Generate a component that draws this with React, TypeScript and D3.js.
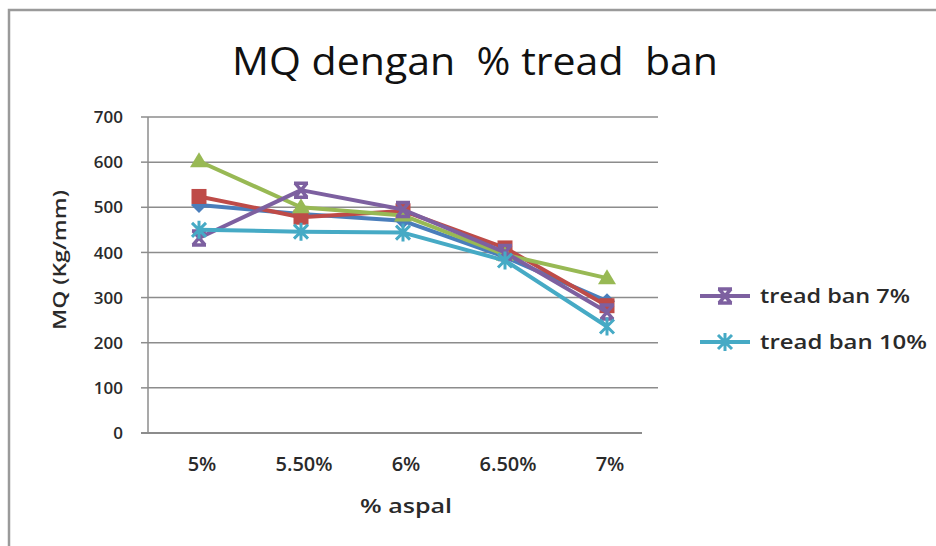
import React, { useEffect, useRef } from 'react';
import * as d3 from 'd3';

const categories = ['5%', '5.50%', '6%', '6.50%', '7%'];
const yTicks = [0, 100, 200, 300, 400, 500, 600, 700];

// series values (MQ, Kg/mm)
const blueValues = [505, 485, 470, 390, 292];
const redValues = [524, 478, 492, 410, 282];
const greenValues = [602, 500, 482, 395, 343];
const purpleValues = [432, 538, 495, 400, 268];
const cyanValues = [450, 446, 444, 382, 236];

const seriesNames = ['tread ban 0%', 'tread ban 3%', 'tread ban 5%', 'tread ban 7%', 'tread ban 10%'];
const legendNames = ['tread ban 7%', 'tread ban 10%'];

interface Series {
  name: string;
  values: number[];
  color: string;
  marker: string;
}

const FONT = "'Open Sans', 'Noto Sans', sans-serif";

export default function App() {
  const svgRef = useRef<SVGSVGElement>(null);

  useEffect(() => {
    if (!svgRef.current) return;
    const svg = d3.select(svgRef.current);
    svg.selectAll('*').remove();

    const series: Series[] = [
      { name: seriesNames[0], values: blueValues, color: '#4a7ebb', marker: 'diamond' },
      { name: seriesNames[1], values: redValues, color: '#be4b48', marker: 'square' },
      { name: seriesNames[2], values: greenValues, color: '#98b954', marker: 'triangle' },
      { name: seriesNames[3], values: purpleValues, color: '#7d60a0', marker: 'xbar' },
      { name: seriesNames[4], values: cyanValues, color: '#46aac5', marker: 'star' },
    ];

    // chart frame (cut off at right and bottom)
    svg.append('path')
      .attr('d', 'M9,546 L9,10 L936,10')
      .attr('fill', 'none')
      .attr('stroke', '#9a9a9a')
      .attr('stroke-width', 2.5);

    const x = d3.scaleBand().domain(categories).range([148, 658]);
    const y = d3.scaleLinear().domain([0, 700]).range([433, 117]);

    // gridlines
    svg.append('g')
      .selectAll('line')
      .data(yTicks.filter(d => d > 0))
      .enter()
      .append('line')
      .attr('x1', 148)
      .attr('x2', 658)
      .attr('y1', d => y(d))
      .attr('y2', d => y(d))
      .attr('stroke', '#8c8c8c')
      .attr('stroke-width', 1.5);

    // y axis
    svg.append('line')
      .attr('x1', 148).attr('x2', 148)
      .attr('y1', y(700)).attr('y2', y(0))
      .attr('stroke', '#8c8c8c').attr('stroke-width', 1.5);
    svg.append('g')
      .selectAll('line')
      .data(yTicks)
      .enter()
      .append('line')
      .attr('x1', 141).attr('x2', 148)
      .attr('y1', d => y(d)).attr('y2', d => y(d))
      .attr('stroke', '#8c8c8c').attr('stroke-width', 1.5);
    svg.append('g')
      .selectAll('text')
      .data(yTicks)
      .enter()
      .append('text')
      .attr('x', 123)
      .attr('y', d => y(d))
      .attr('dy', '0.36em')
      .attr('text-anchor', 'end')
      .style('font-family', FONT)
      .style('font-size', '17px')
      .style('font-weight', '600')
      .style('fill', '#2a2a2a')
      .text(d => d);

    // x axis
    svg.append('line')
      .attr('x1', 141).attr('x2', 642)
      .attr('y1', y(0)).attr('y2', y(0))
      .attr('stroke', '#8c8c8c').attr('stroke-width', 2);
    svg.append('g')
      .selectAll('text')
      .data(categories)
      .enter()
      .append('text')
      .attr('x', d => x(d)! + x.bandwidth() / 2 + 3)
      .attr('y', 471)
      .attr('text-anchor', 'middle')
      .style('font-family', FONT)
      .style('font-size', '20px')
      .style('font-weight', '600')
      .style('fill', '#2a2a2a')
      .text(d => d);

    // axis titles
    svg.append('text')
      .attr('x', 406).attr('y', 513)
      .attr('text-anchor', 'middle')
      .attr('textLength', 92)
      .attr('lengthAdjust', 'spacingAndGlyphs')
      .style('font-family', FONT)
      .style('font-size', '20px')
      .style('font-weight', '600')
      .style('fill', '#2a2a2a')
      .text('% aspal');
    svg.append('text')
      .attr('transform', 'translate(66,260) rotate(-90)')
      .attr('text-anchor', 'middle')
      .attr('textLength', 140)
      .attr('lengthAdjust', 'spacingAndGlyphs')
      .style('font-family', FONT)
      .style('font-size', '18px')
      .style('font-weight', '600')
      .style('fill', '#2a2a2a')
      .text('MQ (Kg/mm)');

    // title
    svg.append('text')
      .attr('x', 475).attr('y', 75)
      .attr('text-anchor', 'middle')
      .attr('textLength', 486)
      .attr('lengthAdjust', 'spacingAndGlyphs')
      .style('font-family', FONT)
      .style('font-size', '38px')
      .style('white-space', 'pre')
      .style('fill', '#111')
      .text('MQ dengan  % tread  ban');

    const cx = (i: number) => x(categories[i])! + x.bandwidth() / 2;

    const drawMarker = (g: d3.Selection<SVGGElement, unknown, null, undefined>, kind: string, px: number, py: number, color: string) => {
      if (kind === 'square') {
        g.append('rect').attr('x', px - 7.5).attr('y', py - 7.5).attr('width', 15).attr('height', 15).attr('fill', color);
      } else if (kind === 'diamond') {
        g.append('path').attr('d', `M${px},${py - 8}L${px + 8},${py}L${px},${py + 8}L${px - 8},${py}Z`).attr('fill', color);
      } else if (kind === 'triangle') {
        g.append('path').attr('d', `M${px},${py - 9}L${px + 9},${py + 6}L${px - 9},${py + 6}Z`).attr('fill', color);
      } else if (kind === 'xbar') {
        g.append('path')
          .attr('d', `M${px - 6},${py - 7}L${px + 6},${py + 7}M${px + 6},${py - 7}L${px - 6},${py + 7}M${px - 7},${py - 7}L${px + 7},${py - 7}M${px - 7},${py + 7}L${px + 7},${py + 7}`)
          .attr('stroke', color).attr('stroke-width', 3.5).attr('fill', 'none');
      } else if (kind === 'star') {
        g.append('path')
          .attr('d', `M${px - 7},${py - 7}L${px + 7},${py + 7}M${px + 7},${py - 7}L${px - 7},${py + 7}M${px},${py - 9}L${px},${py + 9}`)
          .attr('stroke', color).attr('stroke-width', 3).attr('fill', 'none');
      }
    };

    const line = d3.line<number>()
      .x((_, i) => cx(i))
      .y(d => y(d));

    series.forEach(s => {
      const g = svg.append('g');
      g.append('path')
        .attr('d', line(s.values)!)
        .attr('fill', 'none')
        .attr('stroke', s.color)
        .attr('stroke-width', 4)
        .attr('stroke-linejoin', 'round');
      s.values.forEach((v, i) => drawMarker(g, s.marker, cx(i), y(v), s.color));
    });

    // legend (only the last two entries are visible)
    const legendY = d3.scalePoint().domain(legendNames).range([296, 342]);
    const legendW = [150, 167];
    legendNames.forEach((name, k) => {
      const s = series.find(d => d.name === name)!;
      const ly = legendY(name)!;
      const g = svg.append('g');
      g.append('line')
        .attr('x1', 700).attr('x2', 750)
        .attr('y1', ly).attr('y2', ly)
        .attr('stroke', s.color).attr('stroke-width', 4);
      drawMarker(g, s.marker, 725, ly, s.color);
      g.append('text')
        .attr('x', 760).attr('y', ly)
        .attr('dy', '0.36em')
        .attr('textLength', legendW[k])
        .attr('lengthAdjust', 'spacingAndGlyphs')
        .style('font-family', FONT)
        .style('font-size', '19px')
        .style('font-weight', '600')
        .style('fill', '#2a2a2a')
        .text(name);
    });
  }, []);

  return (
    <div style={{ position: 'absolute', left: 0, top: 0, width: 936, height: 546, background: '#fff' }}>
      <svg ref={svgRef} width={936} height={546} style={{ display: 'block' }} />
    </div>
  );
}
